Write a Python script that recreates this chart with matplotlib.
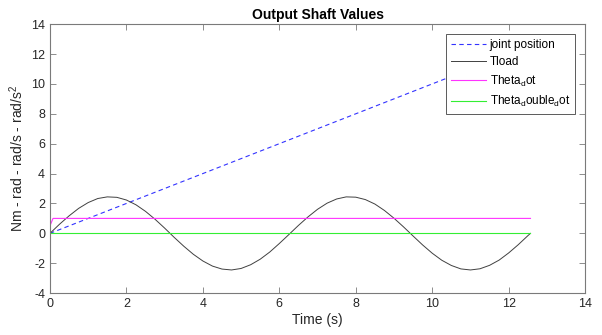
import matplotlib
matplotlib.use("Agg")
import matplotlib.pyplot as plt

plt.rcParams['font.family'] = ['Liberation Sans', 'DejaVu Sans']
plt.rcParams['mathtext.default'] = 'regular'

# Data
joint_t = [0, 12.57]
joint_pos = [0, 12.57]

tload_t = [0, 0.25, 0.5, 0.75, 1.0, 1.25, 1.5, 1.75, 2.0, 2.25, 2.5, 2.75, 3.0,
           3.25, 3.5, 3.75, 4.0, 4.25, 4.5, 4.75, 5.0, 5.25, 5.5, 5.75, 6.0,
           6.25, 6.5, 6.75, 7.0, 7.25, 7.5, 7.75, 8.0, 8.25, 8.5, 8.75, 9.0,
           9.25, 9.5, 9.75, 10.0, 10.25, 10.5, 10.75, 11.0, 11.25, 11.5, 11.75,
           12.0, 12.25, 12.5, 12.57]
tload = [0, 0.61, 1.17, 1.67, 2.06, 2.33, 2.44, 2.41, 2.23, 1.91, 1.47, 0.94, 0.35,
         -0.27, -0.86, -1.40, -1.85, -2.19, -2.39, -2.45, -2.35, -2.10, -1.73, -1.25, -0.68,
         -0.08, 0.53, 1.10, 1.61, 2.02, 2.30, 2.44, 2.42, 2.26, 1.96, 1.53, 1.01,
         0.43, -0.18, -0.78, -1.33, -1.80, -2.15, -2.38, -2.45, -2.37, -2.14, -1.79,
         -1.31, -0.76, -0.16, 0.0]

thetadot_t = [0, 0.08, 12.57]
thetadot = [0.5, 1.0, 1.0]

thetaddot_t = [0, 12.57]
thetaddot = [0, 0]

fig = plt.figure(figsize=(6.02, 3.35), dpi=100)
ax = fig.add_axes([0.083, 0.125, 0.889, 0.803])

ax.plot(joint_t, joint_pos, color='#3333ff', linestyle='--', linewidth=0.8,
        dashes=(4, 3), label='joint position')
ax.plot(tload_t, tload, color='#404040', linewidth=0.7, label='Tload')
ax.plot(thetadot_t, thetadot, color='#ff33ff', linewidth=0.8, label='Theta$_d$ot')
ax.plot(thetaddot_t, thetaddot, color='#33ee33', linewidth=0.8, label='Theta$_d$ouble$_d$ot')

ax.set_xlim(0, 14)
ax.set_ylim(-4, 14)
ax.set_xticks(range(0, 15, 2))
ax.set_yticks(range(-4, 15, 2))
ax.set_yticklabels([str(v) for v in range(-4, 15, 2)])

for s in ax.spines.values():
    s.set_color('#7a7a7a')
    s.set_linewidth(0.8)
ax.tick_params(direction='in', top=True, right=True, length=4, width=0.6,
               colors='#7a7a7a', labelcolor='#262626', labelsize=9)

ax.set_title('Output Shaft Values', fontsize=10, fontweight='bold', pad=4)
ax.set_xlabel('Time (s)', fontsize=10, color='#262626', labelpad=2)
ax.set_ylabel('Nm - rad - rad/s - rad/s$^2$', fontsize=10, color='#262626', labelpad=4)

leg = ax.legend(loc='upper right', bbox_to_anchor=(0.981, 0.963), borderaxespad=0,
                fontsize=8.5, frameon=True, fancybox=False, framealpha=1,
                handlelength=3.0, labelspacing=0.45, borderpad=0.4, handletextpad=0.3)
leg.get_frame().set_edgecolor('#404040')
leg.get_frame().set_linewidth(0.6)

fig.savefig('out.png', dpi=100)
